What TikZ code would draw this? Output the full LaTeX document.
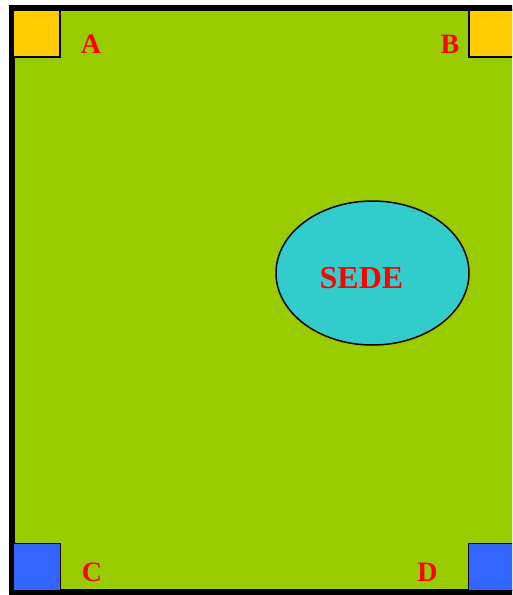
\documentclass[tikz,border=0pt]{standalone}
\usepackage{fontspec}
\setmainfont{Liberation Serif}
\usetikzlibrary{shapes.geometric}
\definecolor{PlotGreen}{HTML}{99CC00}
\definecolor{PlotGold}{HTML}{FFCC00}
\definecolor{PlotBlue}{HTML}{3366FF}
\definecolor{PlotCyan}{HTML}{33CCCC}
\definecolor{PlotRed}{HTML}{FF0000}
\tikzset{
  corner/.style={draw=black,line width=1.5pt,minimum size=47pt,inner sep=0pt},
  cornergold/.style={corner,fill=PlotGold},
  cornerblue/.style={corner,fill=PlotBlue},
  site/.style={ellipse,draw=black,line width=1.5pt,fill=PlotCyan,
    minimum width=193pt,minimum height=144pt,inner sep=0pt},
  tag/.style={text=PlotRed,inner sep=0pt,font=\fontsize{28}{28}\selectfont\bfseries},
  bigtag/.style={tag,font=\fontsize{32}{32}\selectfont\bfseries}
}
\begin{document}
\begin{tikzpicture}[x=1pt,y=-1pt]
  \useasboundingbox (0,0) rectangle (512,595);
  \clip (0,0) rectangle (512,595);
  \fill[white] (0,0) rectangle (512,595);
  % plot
  \draw[line width=6pt,fill=PlotGreen] (12,7.5) rectangle (540,591.5);
  % corners
  \node[cornergold] (cA) at (36.5,33.5) {};
  \node[cornergold] (cB) at (492.5,33.5) {};
  \node[cornerblue] (cC) at (37,567) {};
  \node[cornerblue] (cD) at (492,567) {};
  \node[tag] (lA) at (91,44.5) {A};
  \node[tag] (lB) at (450,44) {B};
  \node[tag] (lC) at (92,572.5) {C};
  \node[tag] (lD) at (427.5,572.5) {D};
  % headquarters
  \node[site] (sede) at (372.5,273) {};
  \node[bigtag] (sedeText) at (361.5,278) {SEDE};
\end{tikzpicture}
\end{document}
